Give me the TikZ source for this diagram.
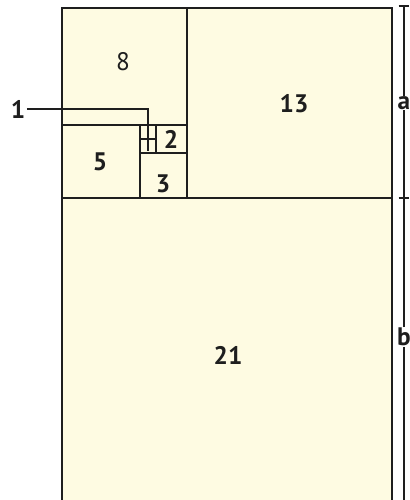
\documentclass[tikz,border=0pt]{standalone}
\usepackage{fontspec}
\setmainfont{PT Sans}
\usetikzlibrary{positioning}
\definecolor{paper}{RGB}{254,251,226}
\definecolor{ink}{RGB}{30,30,30}

\begin{document}
\begin{tikzpicture}[x=0.75pt, y=-0.75pt,
    sq/.style = {draw=ink, fill=paper, line width=1.6pt},
    num/.style = {font=\fontsize{19}{22}\selectfont\bfseries, text=ink, inner sep=1pt},
    dim/.style = {draw=ink, line width=0.8pt},
    tick/.style = {draw=ink, line width=0.8pt}]
	\useasboundingbox (0,0) rectangle (410,500);
	% squares
	\draw[sq] (62,198) rectangle (392,506);
	\draw[sq] (187,8) rectangle (392,198);
	\draw[sq] (62,8) rectangle (187,125);
	\draw[sq] (62,125) rectangle (140,198);
	\draw[sq] (140,153) rectangle (187,198);
	\draw[sq] (156,125) rectangle (187,153);
	\draw[sq, line width=1.2pt] (140,125) rectangle (156,139);
	\draw[sq, line width=1.2pt] (140,139) rectangle (156,153);
	% labels
	\node[num, font=\fontsize{19}{22}\selectfont] (s8) at (123,62) {8};
	\node[num] (s13) at (294,104) {13};
	\node[num] (s5) at (100,162) {5};
	\node[num] (s3) at (163,184) {3};
	\node[num] (s2) at (171,139) {2};
	\node[num] (s21) at (228,355) {21};
	\node[num] (s1) at (18,109) {1};
	\coordinate (c1) at (148,151);
	\draw[ink, line width=1pt] (s1.east) -- (s1.east -| c1) -- (c1);
	% dimensions
	\node[num, inner sep=0.5pt] (a) at (404,103) {a};
	\node[num, inner sep=0.5pt] (b) at (404,337) {b};
	\coordinate (atop) at (406,6);
	\coordinate (amid) at (406,198);
	\coordinate (bbot) at (406,510);
	\draw[dim] (a) -- (a |- atop);
	\draw[dim] (a) -- (a |- amid);
	\draw[dim] (b) -- (b |- amid);
	\draw[dim] (b) -- (b |- bbot);
	\draw[tick] ([xshift=-4]a |- atop) -- ([xshift=4]a |- atop);
	\draw[tick, line width=1.4pt] ([xshift=-4]a |- amid) -- ([xshift=4]a |- amid);
\end{tikzpicture}
\end{document}
